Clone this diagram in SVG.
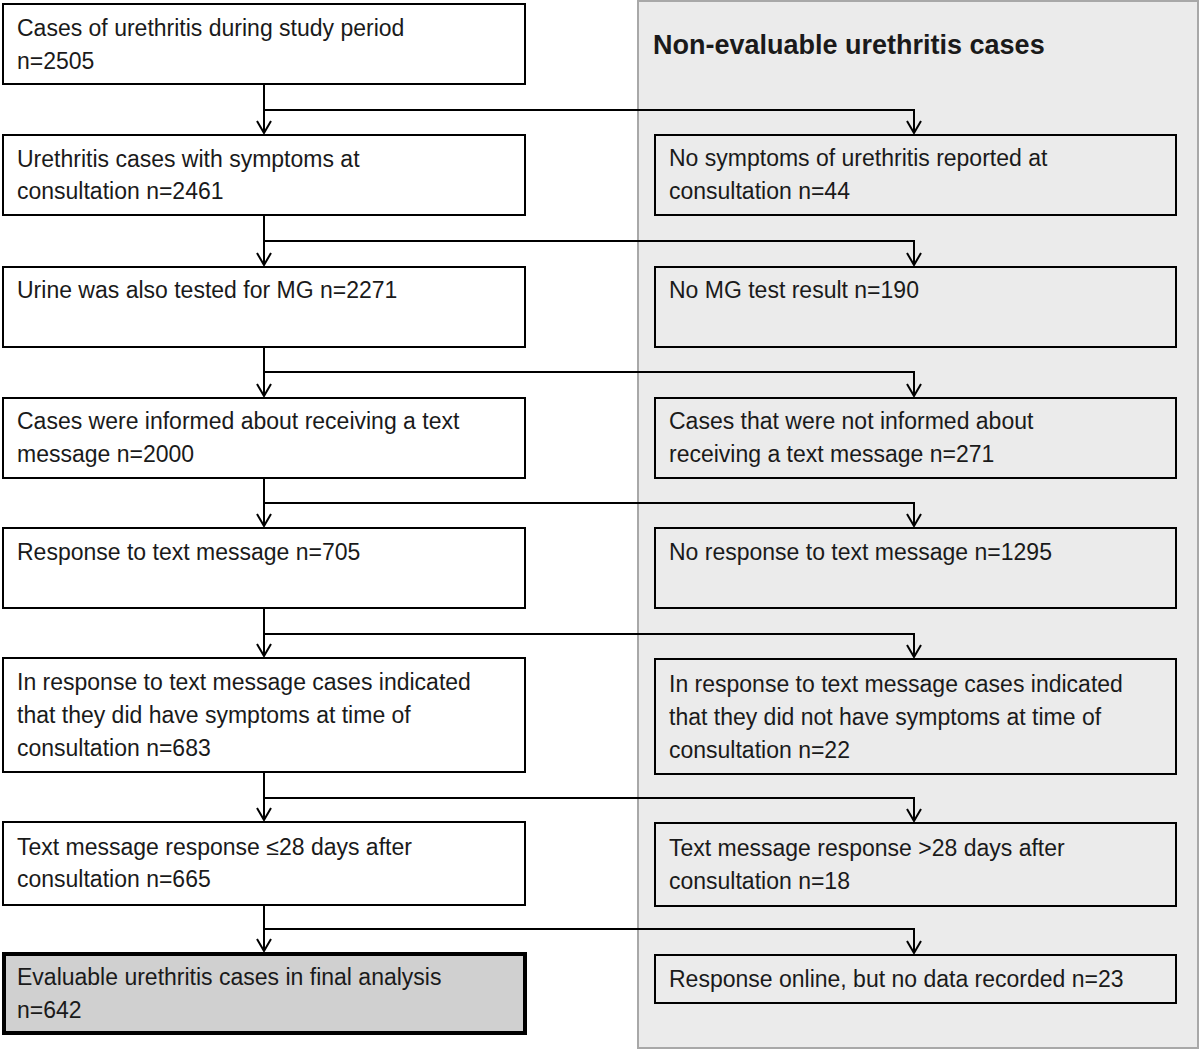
<svg xmlns="http://www.w3.org/2000/svg" width="1200" height="1051" viewBox="0 0 1200 1051">
<defs>
<marker id="a" markerWidth="16" markerHeight="16" refX="15" refY="8" orient="auto" markerUnits="userSpaceOnUse" viewBox="0 0 16 16">
<path d="M3,1 L15,8 L3,15" fill="none" stroke="#000" stroke-width="2"/>
</marker>
<style>
.b{fill:#fff;stroke:#000;stroke-width:2}
.r{fill:#ebebeb;stroke:#000;stroke-width:2}
text{font-family:"Liberation Sans",Arial,sans-serif;font-size:23px;fill:#1a1a1a}
.c{fill:none;stroke:#000;stroke-width:2}
</style>
</defs>
<rect width="1200" height="1051" fill="#fff"/>
<rect x="638" y="1" width="560" height="1047" fill="#ebebeb" stroke="#a8a8a8" stroke-width="2"/>
<text x="653" y="54" style="font-weight:bold;font-size:27px">Non-evaluable urethritis cases</text>
<g id="l1"><rect class="b" x="3" y="4" width="522" height="80"/><text x="17" y="36">Cases of urethritis during study period</text><text x="17" y="69">n=2505</text></g>
<g id="l2"><rect class="b" x="3" y="135" width="522" height="80"/><text x="17" y="167">Urethritis cases with symptoms at</text><text x="17" y="199">consultation n=2461</text></g>
<g id="l3"><rect class="b" x="3" y="267" width="522" height="80"/><text x="17" y="298">Urine was also tested for MG n=2271</text></g>
<g id="l4"><rect class="b" x="3" y="398" width="522" height="80"/><text x="17" y="429">Cases were informed about receiving a text</text><text x="17" y="462">message n=2000</text></g>
<g id="l5"><rect class="b" x="3" y="528" width="522" height="80"/><text x="17" y="560">Response  to text message  n=705</text></g>
<g id="l6"><rect class="b" x="3" y="658" width="522" height="114"/><text x="17" y="690">In response  to text message cases indicated</text><text x="17" y="723">that they did have symptoms at time of</text><text x="17" y="756">consultation n=683</text></g>
<g id="l7"><rect class="b" x="3" y="822" width="522" height="83"/><text x="17" y="855">Text message  response  ≤28 days after</text><text x="17" y="887">consultation  n=665</text></g>
<g id="l8"><rect x="4" y="954" width="521" height="79" fill="#d0d0d0" stroke="#000" stroke-width="4"/><text x="17" y="985">Evaluable urethritis cases in final analysis</text><text x="17" y="1018">n=642</text></g>
<g id="r2"><rect class="r" x="655" y="135" width="521" height="80"/><text x="669" y="166">No symptoms of urethritis reported at</text><text x="669" y="199">consultation n=44</text></g>
<g id="r3"><rect class="r" x="655" y="267" width="521" height="80"/><text x="669" y="298">No MG test result n=190</text></g>
<g id="r4"><rect class="r" x="655" y="398" width="521" height="80"/><text x="669" y="429">Cases that were not informed about</text><text x="669" y="462">receiving a text message n=271</text></g>
<g id="r5"><rect class="r" x="655" y="528" width="521" height="80"/><text x="669" y="560">No response to text message n=1295</text></g>
<g id="r6"><rect class="r" x="655" y="659" width="521" height="115"/><text x="669" y="692">In response  to text message cases indicated</text><text x="669" y="725">that they did not have symptoms at time of</text><text x="669" y="758">consultation n=22</text></g>
<g id="r7"><rect class="r" x="655" y="823" width="521" height="83"/><text x="669" y="856">Text message response &gt;28 days after</text><text x="669" y="889">consultation n=18</text></g>
<g id="r8"><rect class="r" x="655" y="955" width="521" height="48"/><text x="669" y="987">Response  online, but no data recorded n=23</text></g>
<g id="connectors" class="c" marker-end="url(#a)">
<path d="M264,84 V133"/><path d="M264,110 H914 V133"/>
<path d="M264,215 V265"/><path d="M264,241 H914 V265"/>
<path d="M264,347 V396"/><path d="M264,372 H914 V396"/>
<path d="M264,478 V526"/><path d="M264,503 H914 V526"/>
<path d="M264,608 V656"/><path d="M264,634 H914 V657"/>
<path d="M264,772 V820"/><path d="M264,798 H914 V821"/>
<path d="M264,905 V951"/><path d="M264,929 H914 V953"/>
</g>
</svg>
